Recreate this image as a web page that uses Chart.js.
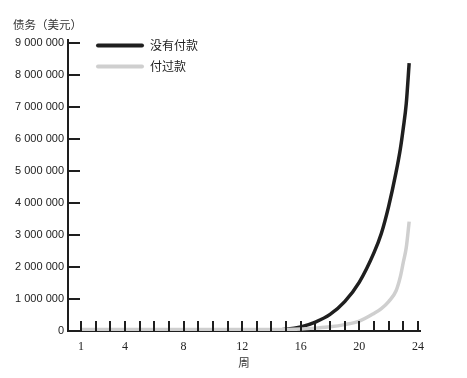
<!DOCTYPE html>
<html lang="zh">
<head>
    <meta charset="UTF-8">
    <title>债务增长</title>
    <script src="https://cdn.jsdelivr.net/npm/chart.js"></script>
    <style>
        body { margin: 0; background: #fff; }
        #wrap { width: 467px; height: 378px; }
    </style>
</head>
<body>
    <div id="wrap"><canvas id="debtChart" width="467" height="378"></canvas></div>

    <script>
        // weeks (x) and debt in dollars for the two series
        const weeks = [1, 2, 3, 4, 5, 6, 7, 8, 9, 10, 11, 12, 13, 14, 15, 16, 17, 18, 19, 20, 21, 21.5, 22, 22.5, 22.8, 23, 23.2, 23.4];
        const noPayment = [10000, 10000, 10000, 10000, 10000, 10000, 10000, 10000, 10000, 10000, 12000, 15000, 20000, 30000, 55000,
            130000, 280000, 520000, 920000, 1530000, 2450000, 3050000, 3900000, 4950000, 5700000, 6350000, 7100000, 8380000];
        const paid = [50000, 50000, 50000, 50000, 50000, 50000, 50000, 50000, 50000, 50000, 50000, 50000, 50000, 50000, 50000,
            60000, 90000, 130000, 200000, 310000, 550000, 700000, 920000, 1250000, 1700000, 2150000, 2600000, 3420000];

        const seriesLabels = ['没有付款', '付过款'];
        const xTickLabels = [1, 4, 8, 12, 16, 20, 24];
        const yTickValues = [0, 1000000, 2000000, 3000000, 4000000, 5000000, 6000000, 7000000, 8000000, 9000000];
        const yTitle = '债务（美元）';
        const xTitle = '周';

        const cjk = '"Noto Sans CJK SC", sans-serif';

        // short tick marks pointing into the plot area, plus legend and y title
        const extras = {
            id: 'extras',
            afterDraw(chart) {
                const ctx = chart.ctx;
                const xs = chart.scales.x, ys = chart.scales.y;
                const area = chart.chartArea;
                ctx.save();
                ctx.strokeStyle = '#1e1e1e';
                ctx.lineWidth = 2;
                for (let w = 1; w <= 24; w++) {
                    const px = Math.round(xs.getPixelForValue(w));
                    ctx.beginPath();
                    ctx.moveTo(px, area.bottom);
                    ctx.lineTo(px, area.bottom - 10);
                    ctx.stroke();
                }
                yTickValues.forEach(v => {
                    if (v === 0) return;
                    const py = Math.round(ys.getPixelForValue(v));
                    ctx.beginPath();
                    ctx.moveTo(area.left, py);
                    ctx.lineTo(area.left + 12, py);
                    ctx.stroke();
                });

                // legend
                ctx.font = '12px ' + cjk;
                ctx.textBaseline = 'middle';
                ctx.textAlign = 'left';
                chart.data.datasets.forEach((ds, i) => {
                    const y = 45.5 + i * 21;
                    ctx.strokeStyle = ds.borderColor;
                    ctx.lineWidth = 4;
                    ctx.lineCap = 'round';
                    ctx.beginPath();
                    ctx.moveTo(98, y);
                    ctx.lineTo(142, y);
                    ctx.stroke();
                    ctx.fillStyle = '#222';
                    ctx.fillText(ds.label, 150, y);
                });

                // y axis title
                ctx.font = '11.5px ' + cjk;
                ctx.fillStyle = '#333';
                ctx.fillText(yTitle, 13, 25);
                ctx.restore();
            }
        };

        const config = {
            type: 'line',
            data: {
                datasets: [{
                    label: seriesLabels[0],
                    data: weeks.map((w, i) => ({ x: w, y: noPayment[i] })),
                    borderColor: '#1f1f1f',
                    borderWidth: 3.5,
                    pointRadius: 0,
                    cubicInterpolationMode: 'monotone',
                    order: 1
                }, {
                    label: seriesLabels[1],
                    data: weeks.map((w, i) => ({ x: w, y: paid[i] })),
                    borderColor: '#cfcfcf',
                    borderWidth: 3.5,
                    pointRadius: 0,
                    cubicInterpolationMode: 'monotone',
                    order: 0
                }]
            },
            options: {
                responsive: false,
                animation: false,
                layout: { padding: { top: 40, right: 47, bottom: 0, left: 0 } },
                plugins: {
                    legend: { display: false },
                    tooltip: { enabled: false }
                },
                scales: {
                    x: {
                        type: 'linear',
                        min: 0.11,
                        max: 24.14,
                        grid: { display: false, drawTicks: false },
                        border: { display: true, color: '#1e1e1e', width: 2 },
                        afterBuildTicks: scale => {
                            scale.ticks = xTickLabels.map(v => ({ value: v }));
                        },
                        afterFit: scale => { scale.height = 47; },
                        ticks: {
                            padding: 9,
                            color: '#222',
                            font: { family: '"Liberation Serif", serif', size: 12 },
                            autoSkip: false,
                            maxRotation: 0
                        },
                        title: {
                            display: true,
                            text: xTitle,
                            color: '#333',
                            font: { family: cjk, size: 11.5 },
                            padding: { top: 0, bottom: 8 }
                        }
                    },
                    y: {
                        min: 0,
                        max: 9100000,
                        grid: { display: false, drawTicks: false },
                        border: { display: true, color: '#1e1e1e', width: 2 },
                        afterBuildTicks: scale => {
                            scale.ticks = yTickValues.map(v => ({ value: v }));
                        },
                        afterFit: scale => { scale.width = 68; },
                        ticks: {
                            padding: 4,
                            color: '#222',
                            font: { family: '"Liberation Sans", sans-serif', size: 11 },
                            callback: v => String(v).replace(/\B(?=(\d{3})+(?!\d))/g, ' ')
                        }
                    }
                }
            },
            plugins: [extras]
        };

        new Chart(document.getElementById('debtChart'), config);
    </script>
</body>
</html>
